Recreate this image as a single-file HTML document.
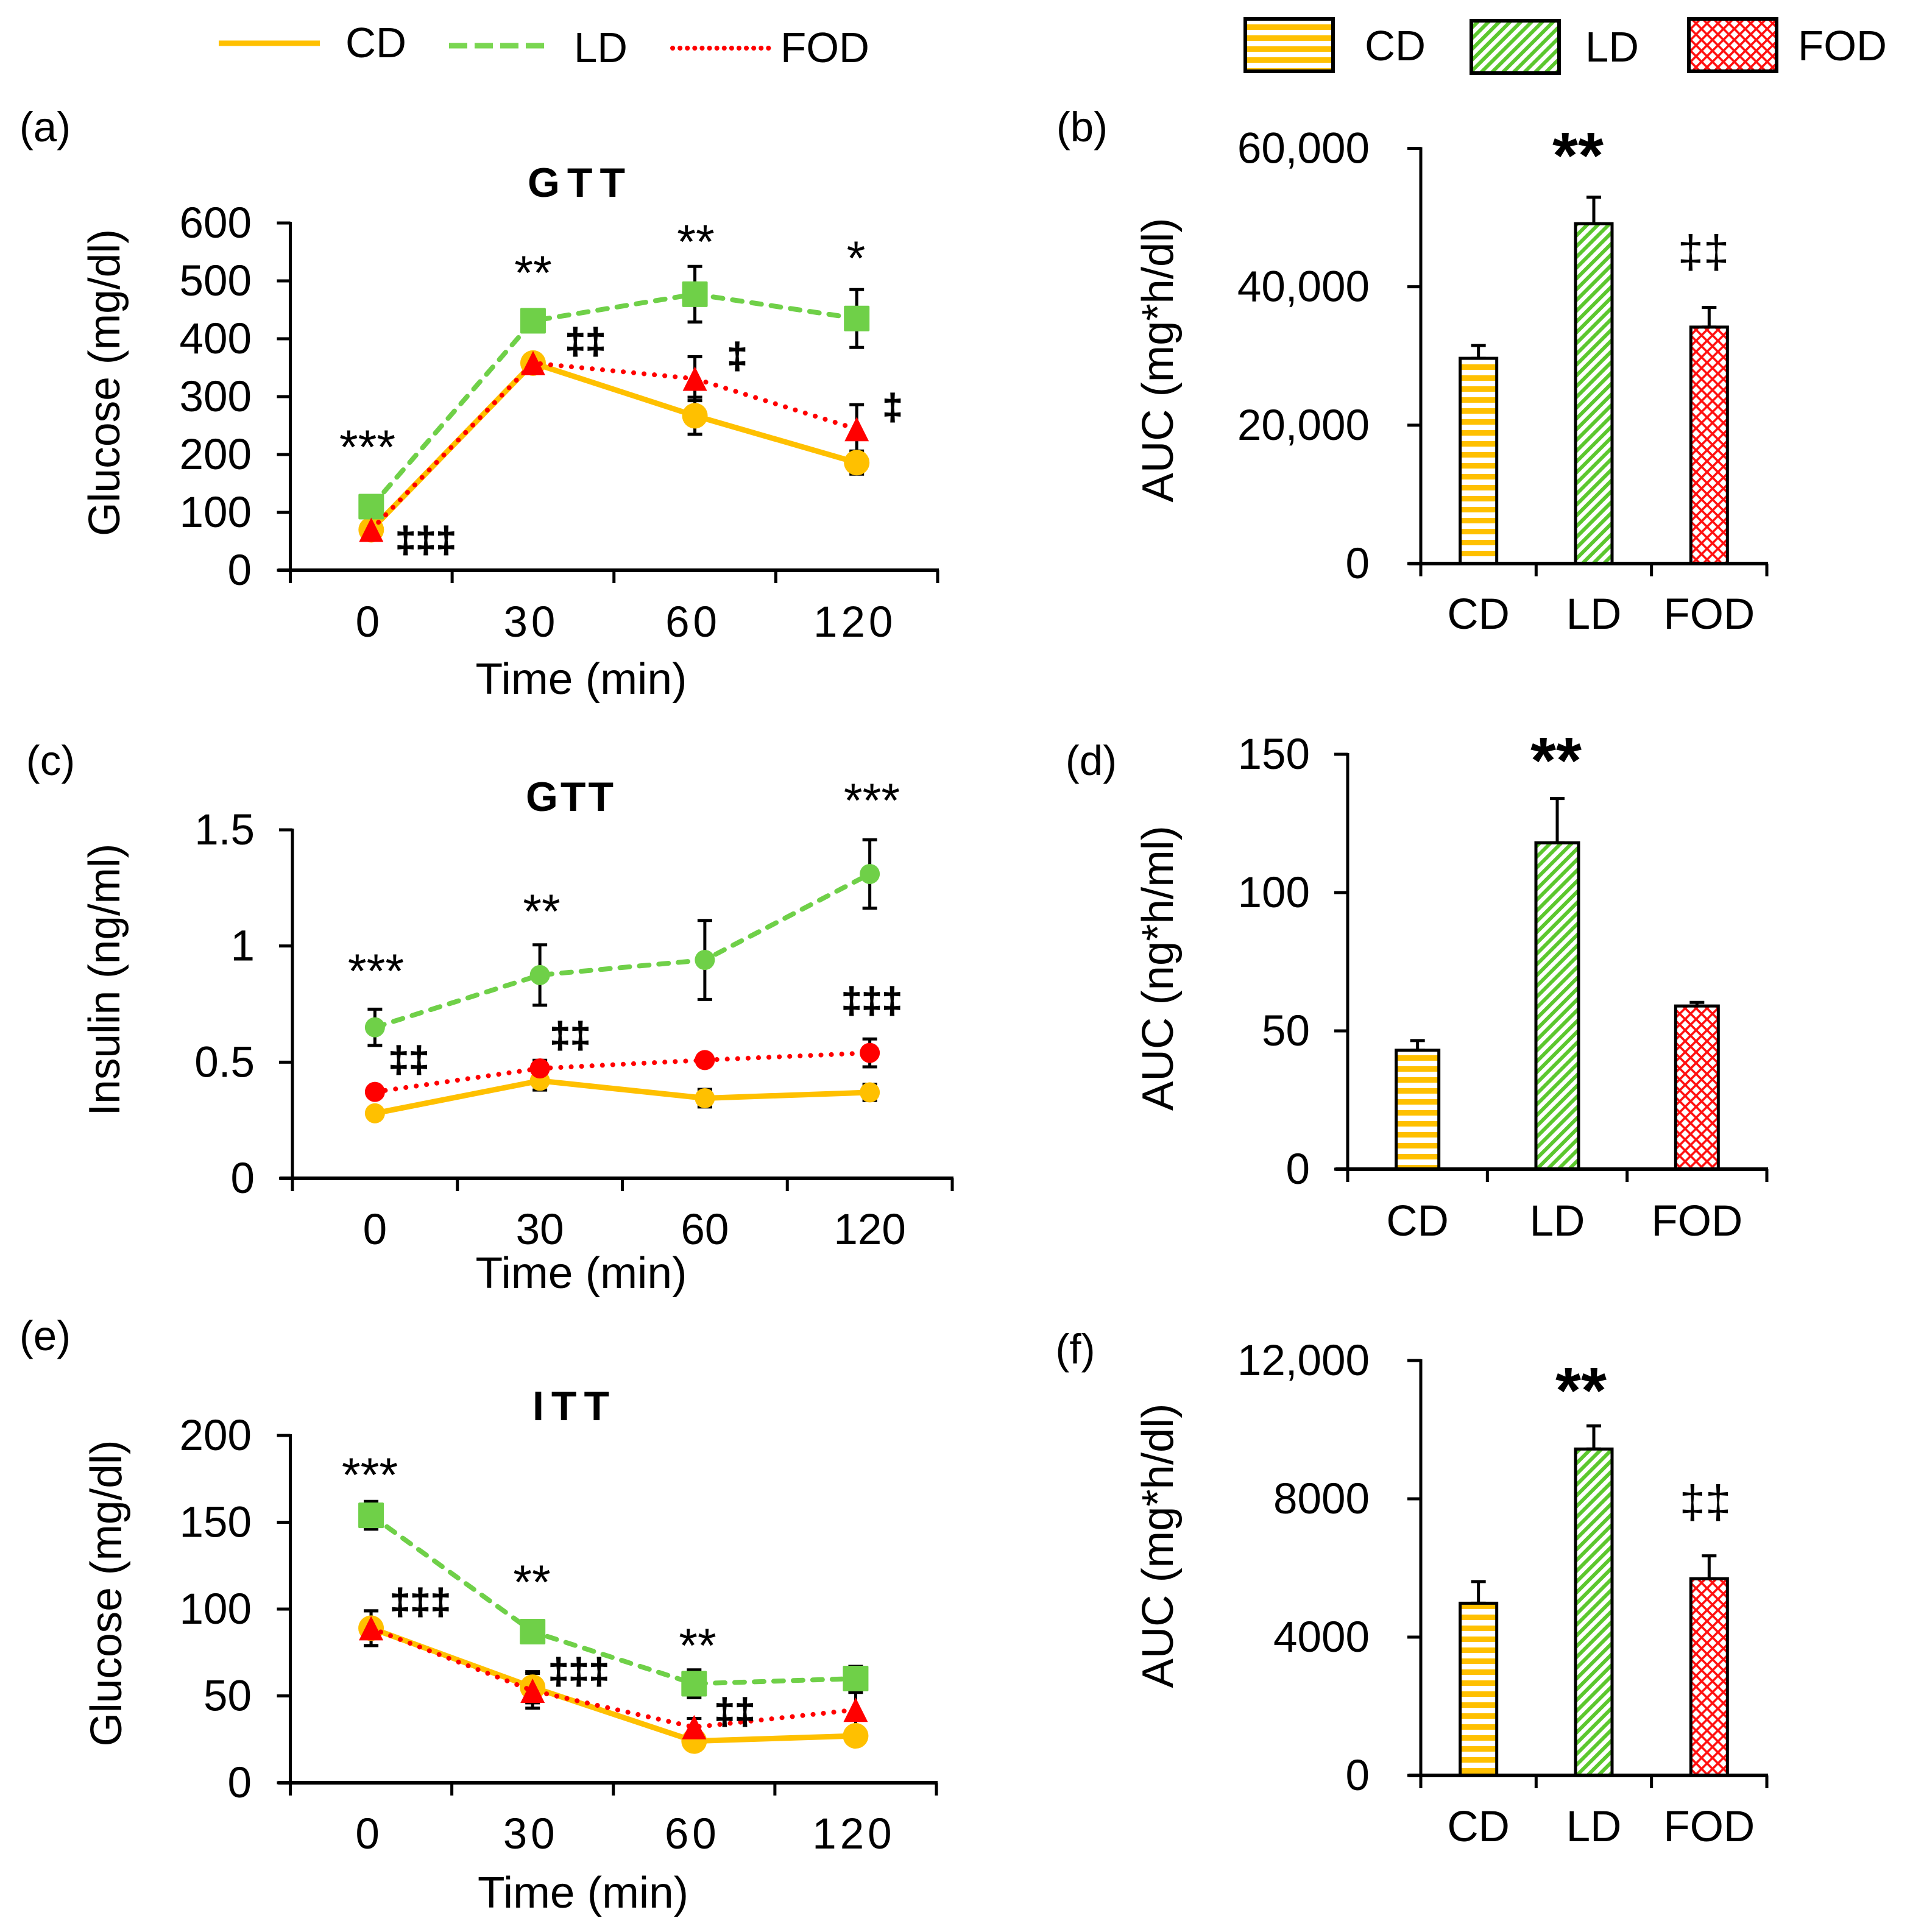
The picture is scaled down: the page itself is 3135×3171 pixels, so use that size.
<!DOCTYPE html>
<html lang="en">
<head>
<meta charset="utf-8">
<title>Glucose and insulin tolerance charts</title>
<style>
html,body{margin:0;padding:0;background:#fff}
svg{display:block}
text{font-family:"Liberation Sans",sans-serif;fill:#000}
.lab{font-size:69px}
.ttl{font-size:68px;font-weight:bold}
.axt{font-size:72px}
.leg{font-size:70px}
.st{font-size:79px}
.bst{font-size:108px;font-weight:bold}
.dg{font-size:60px;font-weight:bold;stroke:#000;stroke-width:1.2px}
.dgr{font-size:76px}
</style>
</head>
<body>
<svg id="fig" xmlns="http://www.w3.org/2000/svg" width="3135" height="3171" viewBox="0 0 3135 3171">
<defs>
<pattern id="hatch-cd" patternUnits="userSpaceOnUse" width="18" height="18" y="4">
<rect width="18" height="18" fill="#fff"/><rect width="18" height="9" fill="#FFC000"/>
</pattern>
<pattern id="hatch-ld" patternUnits="userSpaceOnUse" width="12.5" height="12.5" patternTransform="rotate(45)">
<rect width="12.5" height="12.5" fill="#fff"/><rect width="6" height="12.5" fill="#5CC72E"/>
</pattern>
<pattern id="hatch-fod" patternUnits="userSpaceOnUse" width="12.7" height="12.7" patternTransform="rotate(45)">
<rect width="12.7" height="12.7" fill="#fff"/><rect width="3.6" height="12.7" fill="#FF1010"/><rect width="12.7" height="3.6" fill="#FF1010"/>
</pattern>
</defs>
<rect width="3135" height="3171" fill="#fff"/>

<g>
<line x1="359" y1="71" x2="525" y2="71" stroke="#FFC000" stroke-width="9"/>
<text class="leg" x="617" y="94" text-anchor="middle" textLength="100" lengthAdjust="spacingAndGlyphs">CD</text>
<line x1="737" y1="75" x2="905" y2="75" stroke="#7AD651" stroke-width="9" stroke-dasharray="30 12"/>
<text class="leg" x="986" y="102" text-anchor="middle" textLength="88" lengthAdjust="spacingAndGlyphs">LD</text>
<line x1="1104" y1="79" x2="1265" y2="79" stroke="#FF0000" stroke-width="8" stroke-dasharray="0.1 12" stroke-linecap="round"/>
<text class="leg" x="1354" y="102" text-anchor="middle" textLength="146" lengthAdjust="spacingAndGlyphs">FOD</text>
</g>

<g>
<rect x="2044" y="31" width="144" height="86" fill="url(#hatch-cd)" stroke="#000" stroke-width="6"/>
<text class="leg" x="2290" y="99" text-anchor="middle" textLength="100" lengthAdjust="spacingAndGlyphs">CD</text>
<rect x="2415" y="34" width="144" height="86" fill="url(#hatch-ld)" stroke="#000" stroke-width="6"/>
<text class="leg" x="2646" y="101" text-anchor="middle" textLength="88" lengthAdjust="spacingAndGlyphs">LD</text>
<rect x="2772" y="31" width="144" height="86" fill="url(#hatch-fod)" stroke="#000" stroke-width="6"/>
<text class="leg" x="3024" y="99" text-anchor="middle" textLength="146" lengthAdjust="spacingAndGlyphs">FOD</text>
</g>

<g id="panel-a">
<text class="lab" x="74" y="232" text-anchor="middle">(a)</text>
<text class="ttl" x="946" y="323" text-anchor="middle" textLength="160">GTT</text>
<text class="axt" transform="translate(196 628) rotate(-90)" text-anchor="middle" textLength="504" lengthAdjust="spacingAndGlyphs">Glucose (mg/dl)</text>
<text class="axt" x="954" y="1139" text-anchor="middle" textLength="347" lengthAdjust="spacingAndGlyphs">Time (min)</text>
</g>
<g id="panel-b">
<text class="lab" x="1776" y="232" text-anchor="middle">(b)</text>
<text class="axt" transform="translate(1925 591) rotate(-90)" text-anchor="middle" textLength="467" lengthAdjust="spacingAndGlyphs">AUC (mg*h/dl)</text>
</g>
<g id="panel-c">
<text class="lab" x="83" y="1272" text-anchor="middle">(c)</text>
<text class="ttl" x="935" y="1331" text-anchor="middle" textLength="144">GTT</text>
<text class="axt" transform="translate(196 1608) rotate(-90)" text-anchor="middle" textLength="447" lengthAdjust="spacingAndGlyphs">Insulin (ng/ml)</text>
<text class="axt" x="954" y="2114" text-anchor="middle" textLength="347" lengthAdjust="spacingAndGlyphs">Time (min)</text>
</g>
<g id="panel-d">
<text class="lab" x="1791" y="1272" text-anchor="middle">(d)</text>
<text class="axt" transform="translate(1925 1589) rotate(-90)" text-anchor="middle" textLength="468" lengthAdjust="spacingAndGlyphs">AUC (ng*h/ml)</text>
</g>
<g id="panel-e">
<text class="lab" x="74" y="2216" text-anchor="middle">(e)</text>
<text class="ttl" x="937" y="2331" text-anchor="middle" textLength="126">ITT</text>
<text class="axt" transform="translate(199 2615) rotate(-90)" text-anchor="middle" textLength="503" lengthAdjust="spacingAndGlyphs">Glucose (mg/dl)</text>
<text class="axt" x="957" y="3131" text-anchor="middle" textLength="346" lengthAdjust="spacingAndGlyphs">Time (min)</text>
</g>
<g id="panel-f">
<text class="lab" x="1765" y="2238" text-anchor="middle">(f)</text>
<text class="axt" transform="translate(1925 2537) rotate(-90)" text-anchor="middle" textLength="467" lengthAdjust="spacingAndGlyphs">AUC (mg*h/dl)</text>
</g>

<script>
// ---- Shared categories ----
const timeLabels = ['0', '30', '60', '120'];
const groupLabels = ['CD', 'LD', 'FOD'];

// ---- Panel (a) GTT glucose ----
const gttGlucoseTicks = [0, 100, 200, 300, 400, 500, 600];
const gttGlucoseTickLabels = ['0', '100', '200', '300', '400', '500', '600'];
const gttGlucoseCD = [70, 358, 267, 186];
const gttGlucoseLD = [110, 431, 477, 435];
const gttGlucoseFOD = [70, 358, 331, 244];
const gttGlucoseErrCD = [8, 12, 32, 20];
const gttGlucoseErrLD = [10, 10, 48, 50];
const gttGlucoseErrFOD = [8, 10, 38, 42];

// ---- Panel (b) GTT glucose AUC ----
const gttAucTicks = [0, 20000, 40000, 60000];
const gttAucTickLabels = ['0', '20,000', '40,000', '60,000'];
const gttAucValues = [29660, 49120, 34170];
const gttAucErrors = [1850, 3830, 2840];

// ---- Panel (c) GTT insulin ----
const insulinTicks = [0, 0.5, 1, 1.5];
const insulinTickLabels = ['0', '0.5', '1', '1.5'];
const insulinCD = [0.28, 0.42, 0.345, 0.37];
const insulinLD = [0.65, 0.875, 0.94, 1.31];
const insulinFOD = [0.372, 0.473, 0.509, 0.54];
const insulinErrCD = [0.01, 0.04, 0.038, 0.035];
const insulinErrLD = [0.078, 0.13, 0.17, 0.147];
const insulinErrFOD = [0.02, 0.035, 0.01, 0.06];

// ---- Panel (d) insulin AUC ----
const insulinAucTicks = [0, 50, 100, 150];
const insulinAucTickLabels = ['0', '50', '100', '150'];
const insulinAucValues = [43, 118, 59];
const insulinAucErrors = [3.5, 16, 1.3];

// ---- Panel (e) ITT glucose ----
const ittGlucoseTicks = [0, 50, 100, 150, 200];
const ittGlucoseTickLabels = ['0', '50', '100', '150', '200'];
const ittGlucoseCD = [89, 55, 24, 27];
const ittGlucoseLD = [154, 87, 57, 60];
const ittGlucoseFOD = [89, 53, 32, 42];
const ittGlucoseErrCD = [10, 9, 3, 3];
const ittGlucoseErrLD = [8, 3, 8, 7];
const ittGlucoseErrFOD = [10, 10, 5, 10];

// ---- Panel (f) ITT AUC ----
const ittAucTicks = [0, 4000, 8000, 12000];
const ittAucTickLabels = ['0', '4000', '8000', '12,000'];
const ittAucValues = [4980, 9440, 5690];
const ittAucErrors = [625, 670, 660];

const SVGNS = 'http://www.w3.org/2000/svg';
const seriesColors = {CD: '#FFC000', LD: '#6FD048', FOD: '#FF0000'};
const seriesWidths = {CD: 9, LD: 8, FOD: 8};
const seriesDash = {CD: 'none', LD: '16 16', FOD: '0.1 17'};
const seriesCaps = {CD: 'butt', LD: 'round', FOD: 'round'};
const barFills = {CD: 'url(#hatch-cd)', LD: 'url(#hatch-ld)', FOD: 'url(#hatch-fod)'};

function el(parent, tag, attrs, content) {
  const node = document.createElementNS(SVGNS, tag);
  for (const key in attrs) node.setAttribute(key, attrs[key]);
  if (content !== undefined) node.textContent = content;
  parent.appendChild(node);
  return node;
}
function xScale(frame, count) {
  return function (i) { return frame.x0 + (i + 0.5) * (frame.x1 - frame.x0) / count; };
}
function yScale(frame) {
  return function (v) { return frame.yBase - v / frame.yMax * (frame.yBase - frame.yTop); };
}

function drawAxes(g, frame, cats, ticks, tickLabels) {
  const x = xScale(frame, cats.length);
  const y = yScale(frame);
  const yAxis = el(g, 'line', {x1: frame.x0, x2: frame.x0, y1: frame.yTop - 2, y2: frame.yBase + 3, stroke: '#000', 'stroke-width': 5});
  
  
  const xAxis = el(g, 'line', {x1: frame.x0 - 20, x2: frame.x1 + 2, y1: frame.yBase, y2: frame.yBase, stroke: '#000', 'stroke-width': 6});
  
  
  ticks.forEach(function (t, i) {
    const tick = el(g, 'line', {x1: frame.x0 - 22, x2: frame.x0, y1: y(t), y2: y(t), stroke: '#000', 'stroke-width': 5});
    
    
    const label = el(g, 'text', {x: frame.tickRight, y: y(t) + 24, 'text-anchor': 'end', 'font-size': 71}, tickLabels[i]);
    
    
  });
  for (let i = 0; i <= cats.length; i++) {
    const tx = frame.x0 + i * (frame.x1 - frame.x0) / cats.length;
    const tick = el(g, 'line', {x1: tx, x2: tx, y1: frame.yBase, y2: frame.yBase + 21, stroke: '#000', 'stroke-width': 5});
    
    
  }
  cats.forEach(function (c, i) {
    const label = el(g, 'text', {x: x(i) + frame.labelDx, y: frame.labelY, 'text-anchor': 'middle', 'font-size': 71, 'letter-spacing': frame.labelSpacing}, c);
    
    
  });
}

function drawErrorBar(g, px, yHigh, yLow, capWidth) {
  const stem = el(g, 'line', {x1: px, x2: px, y1: yHigh, y2: yLow, stroke: '#000', 'stroke-width': 5});
  
  
  const top = el(g, 'line', {x1: px - capWidth / 2, x2: px + capWidth / 2, y1: yHigh, y2: yHigh, stroke: '#000', 'stroke-width': 5});
  
  
  if (yLow !== yHigh) {
    const bottom = el(g, 'line', {x1: px - capWidth / 2, x2: px + capWidth / 2, y1: yLow, y2: yLow, stroke: '#000', 'stroke-width': 5});
    
    
  }
}

function drawMarker(g, shape, px, py, color, size) {
  let m;
  if (shape === 'square') {
    m = el(g, 'rect', {x: px - size / 2, y: py - size / 2, width: size, height: size, rx: 2, fill: color});
  } else if (shape === 'triangle') {
    const p = (px - size / 2) + ',' + (py + size / 2) + ' ' + (px + size / 2) + ',' + (py + size / 2) + ' ' + px + ',' + (py - size / 2);
    m = el(g, 'polygon', {points: p, fill: color});
  } else {
    m = el(g, 'circle', {cx: px, cy: py, r: size / 2, fill: color});
  }
  
  
}

function drawLineChart(panelId, frame, cats, ticks, tickLabels, series) {
  const g = document.getElementById(panelId);
  drawAxes(g, frame, cats, ticks, tickLabels);
  const x = xScale(frame, cats.length);
  const y = yScale(frame);
  series.forEach(function (s) {
    s.values.forEach(function (v, i) {
      drawErrorBar(g, x(i), y(v + s.errors[i]), y(v - s.errors[i]), 24);
    });
  });
  series.forEach(function (s) {
    const pts = s.values.map(function (v, i) { return x(i) + ',' + y(v); }).join(' ');
    const line = el(g, 'polyline', {points: pts, fill: 'none', stroke: seriesColors[s.name], 'stroke-width': seriesWidths[s.name], 'stroke-dasharray': seriesDash[s.name], 'stroke-linecap': seriesCaps[s.name]});
    
    
    s.values.forEach(function (v, i) {
      drawMarker(g, s.shape, x(i), y(v), seriesColors[s.name], s.size);
    });
  });
}

function drawBarChart(panelId, frame, cats, ticks, tickLabels, values, errors) {
  const g = document.getElementById(panelId);
  const x = xScale(frame, cats.length);
  const y = yScale(frame);
  values.forEach(function (v, i) {
    drawErrorBar(g, x(i), y(v + errors[i]), y(v), 24);
    const bar = el(g, 'rect', {x: x(i) - frame.barWidth / 2, y: y(v), width: frame.barWidth, height: frame.yBase - y(v), fill: barFills[cats[i]], stroke: '#000', 'stroke-width': 5});
    
    
  });
  drawAxes(g, frame, cats, ticks, tickLabels);
}

drawLineChart('panel-a',
  {x0: 476.5, x1: 1539, yTop: 366, yBase: 936, yMax: 600, tickRight: 413, labelY: 1045, labelDx: -3, labelSpacing: 6},
  timeLabels, gttGlucoseTicks, gttGlucoseTickLabels,
  [{name: 'CD', values: gttGlucoseCD, errors: gttGlucoseErrCD, shape: 'circle', size: 42},
   {name: 'LD', values: gttGlucoseLD, errors: gttGlucoseErrLD, shape: 'square', size: 42},
   {name: 'FOD', values: gttGlucoseFOD, errors: gttGlucoseErrFOD, shape: 'triangle', size: 40}]);

drawBarChart('panel-b',
  {x0: 2332, x1: 2900, yTop: 243.5, yBase: 925, yMax: 60000, tickRight: 2248, labelY: 1032, labelDx: 0, labelSpacing: 0, barWidth: 60},
  groupLabels, gttAucTicks, gttAucTickLabels, gttAucValues, gttAucErrors);

drawLineChart('panel-c',
  {x0: 480, x1: 1563, yTop: 1362, yBase: 1934, yMax: 1.5, tickRight: 418, labelY: 2042, labelDx: 0, labelSpacing: 0},
  timeLabels, insulinTicks, insulinTickLabels,
  [{name: 'CD', values: insulinCD, errors: insulinErrCD, shape: 'circle', size: 33},
   {name: 'LD', values: insulinLD, errors: insulinErrLD, shape: 'circle', size: 33},
   {name: 'FOD', values: insulinFOD, errors: insulinErrFOD, shape: 'circle', size: 33}]);

drawBarChart('panel-d',
  {x0: 2212, x1: 2900, yTop: 1238, yBase: 1919, yMax: 150, tickRight: 2150, labelY: 2028, labelDx: 0, labelSpacing: 0, barWidth: 70},
  groupLabels, insulinAucTicks, insulinAucTickLabels, insulinAucValues, insulinAucErrors);

drawLineChart('panel-e',
  {x0: 476.5, x1: 1537, yTop: 2356, yBase: 2926, yMax: 200, tickRight: 413, labelY: 3034, labelDx: -3, labelSpacing: 6},
  timeLabels, ittGlucoseTicks, ittGlucoseTickLabels,
  [{name: 'CD', values: ittGlucoseCD, errors: ittGlucoseErrCD, shape: 'circle', size: 42},
   {name: 'LD', values: ittGlucoseLD, errors: ittGlucoseErrLD, shape: 'square', size: 42},
   {name: 'FOD', values: ittGlucoseFOD, errors: ittGlucoseErrFOD, shape: 'triangle', size: 40}]);

drawBarChart('panel-f',
  {x0: 2332, x1: 2900, yTop: 2233, yBase: 2914, yMax: 12000, tickRight: 2248, labelY: 3022, labelDx: 0, labelSpacing: 0, barWidth: 60},
  groupLabels, ittAucTicks, ittAucTickLabels, ittAucValues, ittAucErrors);
</script>

<g>
<text class="st" x="603" y="761" text-anchor="middle">***</text>
<text class="st" x="875" y="475" text-anchor="middle">**</text>
<text class="st" x="1142" y="424" text-anchor="middle">**</text>
<text class="st" x="1405" y="451" text-anchor="middle">*</text>
<text class="dg" x="699" y="907" text-anchor="middle">‡‡‡</text>
<text class="dg" x="961" y="581" text-anchor="middle">‡‡</text>
<text class="dg" x="1210" y="605" text-anchor="middle">‡</text>
<text class="dg" x="1465" y="689" text-anchor="middle">‡</text>

<text class="bst" x="2590" y="292" text-anchor="middle">**</text>
<text class="dgr" x="2796" y="439" text-anchor="middle">‡‡</text>

<text class="st" x="617" y="1621" text-anchor="middle">***</text>
<text class="st" x="889" y="1523" text-anchor="middle">**</text>
<text class="st" x="1431" y="1341" text-anchor="middle">***</text>
<text class="dg" x="671" y="1760" text-anchor="middle">‡‡</text>
<text class="dg" x="936" y="1720" text-anchor="middle">‡‡</text>
<text class="dg" x="1431" y="1663" text-anchor="middle">‡‡‡</text>

<text class="bst" x="2554" y="1285" text-anchor="middle">**</text>

<text class="st" x="607" y="2448" text-anchor="middle">***</text>
<text class="st" x="873" y="2624" text-anchor="middle">**</text>
<text class="st" x="1145" y="2728" text-anchor="middle">**</text>
<text class="dg" x="690" y="2650" text-anchor="middle">‡‡‡</text>
<text class="dg" x="950" y="2764" text-anchor="middle">‡‡‡</text>
<text class="dg" x="1206" y="2830" text-anchor="middle">‡‡</text>

<text class="bst" x="2595" y="2319" text-anchor="middle">**</text>
<text class="dgr" x="2799" y="2491" text-anchor="middle">‡‡</text>
</g>
</svg>
</body>
</html>
